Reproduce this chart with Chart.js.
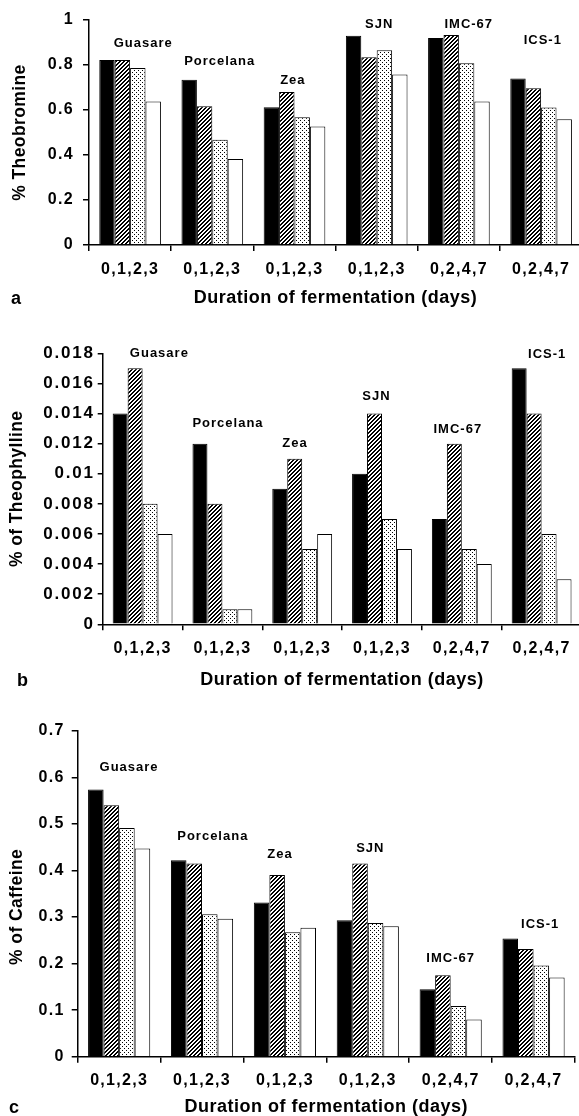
<!DOCTYPE html>
<html><head><meta charset="utf-8">
<script src="https://cdn.jsdelivr.net/npm/chart.js@4.4.1/dist/chart.umd.min.js"></script>
<style>
html,body{margin:0;padding:0;background:#fff;width:579px;height:1116px;overflow:hidden;position:relative;}
canvas{position:absolute;left:0;}
.pl{position:absolute;font:bold 18px "Liberation Sans",Arial,sans-serif;color:#000;line-height:22px;}
</style></head><body>
<canvas id="ca" width="600" height="312" style="top:0;width:600px;height:312px"></canvas>
<canvas id="cb" width="600" height="374" style="top:320px;width:600px;height:374px"></canvas>
<canvas id="cc" width="600" height="420" style="top:700px;width:600px;height:420px"></canvas>
<div class="pl" style="left:11px;top:287px">a</div>
<div class="pl" style="left:17px;top:669px">b</div>
<div class="pl" style="left:9px;top:1096px">c</div>
<script>
// ---------- data ----------
const categories = ["0,1,2,3","0,1,2,3","0,1,2,3","0,1,2,3","0,2,4,7","0,2,4,7"];
const cultivars = ["Guasare","Porcelana","Zea","SJN","IMC-67","ICS-1"];

// (a) Theobromine
const theoA1 = [0.822, 0.735, 0.612, 0.930, 0.920, 0.740];
const theoA2 = [0.822, 0.617, 0.680, 0.835, 0.933, 0.697];
const theoA3 = [0.787, 0.468, 0.568, 0.866, 0.808, 0.611];
const theoA4 = [0.638, 0.382, 0.527, 0.758, 0.638, 0.559];
const ticksA = [0, 0.2, 0.4, 0.6, 0.8, 1];
const tickLabelsA = ["0","0.2","0.4","0.6","0.8","1"];

// (b) Theophylline
const theoB1 = [0.014, 0.012, 0.009, 0.010, 0.007, 0.017];
const theoB2 = [0.017, 0.008, 0.011, 0.014, 0.012, 0.014];
const theoB3 = [0.008, 0.001, 0.005, 0.007, 0.005, 0.006];
const theoB4 = [0.006, 0.001, 0.006, 0.005, 0.004, 0.003];
const ticksB = [0, 0.002, 0.004, 0.006, 0.008, 0.01, 0.012, 0.014, 0.016, 0.018];
const tickLabelsB = ["0","0.002","0.004","0.006","0.008","0.01","0.012","0.014","0.016","0.018"];

// (c) Caffeine
const cafC1 = [0.574, 0.422, 0.331, 0.293, 0.145, 0.254];
const cafC2 = [0.540, 0.415, 0.390, 0.415, 0.175, 0.231];
const cafC3 = [0.491, 0.306, 0.267, 0.287, 0.109, 0.196];
const cafC4 = [0.447, 0.296, 0.277, 0.280, 0.080, 0.170];
const ticksC = [0, 0.1, 0.2, 0.3, 0.4, 0.5, 0.6, 0.7];
const tickLabelsC = ["0","0.1","0.2","0.3","0.4","0.5","0.6","0.7"];

// cultivar label anchors (value units, category-fraction offsets)
const labelYA = [0.898, 0.815, 0.733, 0.982, 0.982, 0.91];
const labelDxA = [0.16, 0.09, -0.02, 0.03, 0.12, 0.02];
const labelYB = [0.0180, 0.01335, 0.01202, 0.01512, 0.01295, 0.01795];
const labelDxB = [0.21, 0.07, -0.09, -0.07, -0.05, 0.07];
const labelYC = [0.621, 0.472, 0.435, 0.447, 0.211, 0.284];
const labelDxC = [0.12, 0.13, -0.06, 0.03, 0.0, 0.08];

// ---------- styling helpers ----------
const FONT = '"Liberation Sans", Arial, sans-serif';
const SPACING = {"13":1, "16":1.3, "17":1.8, "17.5":0.4, "18":0.5};

function patchSpacing(ctx){
  const proto = CanvasRenderingContext2D.prototype.fillText;
  ctx.fillText = function(t,x,y,mw){
    const m = /(\d+(?:\.\d+)?)px/.exec(this.font);
    const s = m ? (SPACING[m[1]] || 0) : 0;
    this.letterSpacing = s + 'px';
    return (mw === undefined) ? proto.call(this,t,x,y) : proto.call(this,t,x,y,mw);
  };
}
function hatchPattern(ctx){
  const c=document.createElement('canvas'); c.width=c.height=4;
  const x=c.getContext('2d'); x.fillStyle='#fff'; x.fillRect(0,0,4,4); x.fillStyle='#000';
  for(let i=0;i<4;i++)for(let j=0;j<4;j++) if(((i+j)%4)<2) x.fillRect(i,j,1,1);
  return ctx.createPattern(c,'repeat');
}
function dotPattern(ctx){
  const c=document.createElement('canvas'); c.width=c.height=4;
  const x=c.getContext('2d'); x.fillStyle='#fff'; x.fillRect(0,0,4,4); x.fillStyle='#000';
  x.fillRect(0,0,1,1); x.fillRect(2,2,1,1);
  return ctx.createPattern(c,'repeat');
}

function makeChart(id, cfg){
  const canvas = document.getElementById(id);
  const ctx = canvas.getContext('2d');
  patchSpacing(ctx);
  const fills = ['#000', hatchPattern(ctx), dotPattern(ctx), '#fff'];
  const labelPlugin = {
    id: 'cultivarLabels',
    afterDatasetsDraw(chart){
      const xs = chart.scales.x, ys = chart.scales.y;
      const cw = xs.getPixelForValue(1) - xs.getPixelForValue(0);
      const c = chart.ctx;
      c.save();
      c.font = 'bold 13px ' + FONT;
      c.fillStyle = '#000'; c.textAlign = 'center'; c.textBaseline = 'middle';
      cultivars.forEach((name,i)=>{
        c.fillText(name, xs.getPixelForValue(i) + cfg.labelDx[i]*cw, ys.getPixelForValue(cfg.labelY[i]));
      });
      c.restore();
    }
  };
  return new Chart(ctx, {
    type: 'bar',
    data: {
      labels: categories,
      datasets: cfg.series.map((d,k)=>({
        data: d, backgroundColor: fills[k], borderColor: '#000', borderWidth: 1,
        categoryPercentage: 0.75, barPercentage: 1.0
      }))
    },
    options: {
      responsive: false, animation: false, devicePixelRatio: 1,
      layout: { padding: { left: 0, top: cfg.top, right: 600 - cfg.right, bottom: 0 } },
      plugins: { legend: { display: false }, tooltip: { enabled: false } },
      scales: {
        x: {
          grid: { display: true, drawOnChartArea: false, drawTicks: true, tickLength: 6, color: '#000', lineWidth: 1.5, offset: true },
          border: { display: true, color: '#000', width: 1.5 },
          ticks: { color: '#000', font: { family: FONT, size: 16, weight: 'bold' }, padding: cfg.xPad, maxRotation: 0, autoSkip: false },
          title: { display: true, text: 'Duration of fermentation (days)', color: '#000',
                   font: { family: FONT, size: 18, weight: 'bold' }, padding: { top: 0, bottom: cfg.xTitleBottom } },
          afterFit: s => { s.height = cfg.xHeight; }
        },
        y: {
          min: 0, max: cfg.max,
          afterBuildTicks: s => { s.ticks = cfg.ticks.map(v => ({ value: v })); },
          grid: { display: true, drawOnChartArea: false, drawTicks: true, tickLength: cfg.yTick, color: '#000', lineWidth: 1.5 },
          border: { display: true, color: '#000', width: 1.5 },
          ticks: { color: '#000', font: { family: FONT, size: cfg.yFont, weight: 'bold' }, padding: cfg.yPad,
                   callback: (v, i) => cfg.tickLabels[i] },
          title: { display: true, text: cfg.yTitle, color: '#000',
                   font: { family: FONT, size: 17.5, weight: 'bold' }, padding: { top: cfg.yTitlePad, bottom: 0 } },
          afterFit: s => { s.width = cfg.left; }
        }
      }
    },
    plugins: [labelPlugin]
  });
}

makeChart('ca', {
  series: [theoA1, theoA2, theoA3, theoA4], ticks: ticksA, tickLabels: tickLabelsA, max: 1,
  labelY: labelYA, labelDx: labelDxA, yTitle: '% Theobromine',
  left: 89, right: 582.2, top: 20, xHeight: 67, xPad: 9, xTitleBottom: 3.2,
  yTick: 6, yPad: 9, yFont: 16, yTitlePad: 9.5
});
makeChart('cb', {
  series: [theoB1, theoB2, theoB3, theoB4], ticks: ticksB, tickLabels: tickLabelsB, max: 0.018,
  labelY: labelYB, labelDx: labelDxB, yTitle: '% of Theophylline',
  left: 102.7, right: 581.5, top: 33.3, xHeight: 69.7, xPad: 9, xTitleBottom: 3.2,
  yTick: 5, yPad: 3, yFont: 17, yTitlePad: 7
});
makeChart('cc', {
  series: [cafC1, cafC2, cafC3, cafC4], ticks: ticksC, tickLabels: tickLabelsC, max: 0.7,
  labelY: labelYC, labelDx: labelDxC, yTitle: '% of Caffeine\u00A0\u00A0\u00A0\u00A0\u00A0',
  left: 77.7, right: 575, top: 30.7, xHeight: 63.3, xPad: 8, xTitleBottom: 2.5,
  yTick: 6, yPad: 7, yFont: 16, yTitlePad: 7
});
</script>
</body></html>
